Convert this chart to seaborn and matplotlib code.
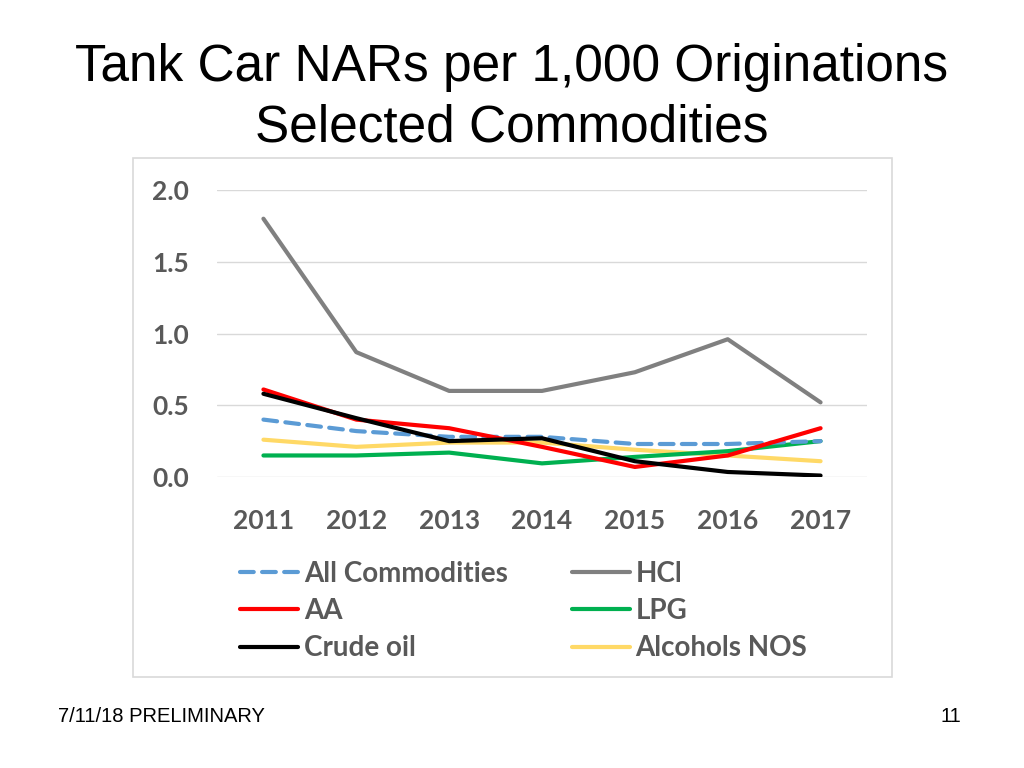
import matplotlib
matplotlib.use("Agg")
import matplotlib.pyplot as plt
import seaborn as sns
import pandas as pd
from matplotlib.patches import Rectangle

years = [2011, 2012, 2013, 2014, 2015, 2016, 2017]
all_commodities = [0.40, 0.32, 0.28, 0.28, 0.23, 0.23, 0.25]
hcl = [1.80, 0.87, 0.60, 0.60, 0.73, 0.96, 0.52]
aa = [0.61, 0.40, 0.34, 0.21, 0.07, 0.15, 0.34]
lpg = [0.15, 0.15, 0.17, 0.095, 0.14, 0.18, 0.25]
crude_oil = [0.58, 0.41, 0.25, 0.27, 0.11, 0.035, 0.01]
alcohols_nos = [0.26, 0.21, 0.24, 0.24, 0.19, 0.15, 0.11]

series = {
    "All Commodities": all_commodities,
    "HCl": hcl,
    "AA": aa,
    "LPG": lpg,
    "Crude oil": crude_oil,
    "Alcohols NOS": alcohols_nos,
}
colors = {
    "All Commodities": "#5B9BD5",
    "HCl": "#808080",
    "AA": "#FF0000",
    "LPG": "#00B050",
    "Crude oil": "#000000",
    "Alcohols NOS": "#FFD966",
}
# draw order: back to front
draw_order = ["HCl", "Alcohols NOS", "LPG", "All Commodities", "AA", "Crude oil"]
legend_order = ["All Commodities", "AA", "Crude oil", "HCl", "LPG", "Alcohols NOS"]

sns.set_style("white")
plt.rcParams["font.family"] = ["Liberation Sans", "DejaVu Sans"]

fig = plt.figure(figsize=(10.24, 7.68), dpi=100)

# chart frame
fig.patches.append(Rectangle((133 / 1024, 1 - 677 / 768), (892 - 133) / 1024, (677 - 158) / 768,
                             transform=fig.transFigure, fill=False, edgecolor="#d9d9d9", linewidth=1.2))

ax = fig.add_axes([217 / 1024, 1 - 477 / 768, (867 - 217) / 1024, (477 - 190) / 768])

for name in draw_order:
    df = pd.DataFrame({"year": years, "value": series[name]})
    kw = dict(linewidth=3.0, solid_capstyle="round")
    if name == "All Commodities":
        kw.update(linestyle=(0, (3.3, 2.0)), dash_capstyle="round")
    sns.lineplot(data=df, x="year", y="value", ax=ax, color=colors[name], label=name, **kw)

ax.set_xlim(2010.5, 2017.5)
ax.set_ylim(0, 2.0)
ax.set_yticks([0, 0.5, 1.0, 1.5, 2.0])
ax.set_yticklabels(["0.0", "0.5", "1.0", "1.5", "2.0"])
ax.set_xticks(years)
ax.grid(axis="y", color="#d9d9d9", linewidth=1)
ax.grid(axis="x", visible=False)
for s in ax.spines.values():
    s.set_visible(False)
ax.set_xlabel("")
ax.set_ylabel("")
for lab in ax.get_xticklabels() + ax.get_yticklabels():
    lab.set_fontfamily(["Lato", "DejaVu Sans"])
    lab.set_fontweight("bold")
    lab.set_fontsize(19)
    lab.set_color("#595959")
ax.tick_params(axis="y", length=0, pad=20)
ax.tick_params(axis="x", length=0, pad=23)

h, l = ax.get_legend_handles_labels()
hm = dict(zip(l, h))
ax.legend([hm[n] for n in legend_order], legend_order, ncol=2, frameon=False,
          loc="upper left", bbox_to_anchor=(240 / 1024, 1 - 561 / 768),
          bbox_transform=fig.transFigure, borderaxespad=0, borderpad=0,
          handlelength=2.1, handletextpad=0.2, columnspacing=2.3, labelspacing=0.4,
          prop=dict(family=["Lato", "DejaVu Sans"], weight="bold", size=20),
          labelcolor="#595959")

fig.text(0.5, 1 - 67 / 768, "Tank Car NARs per 1,000 Originations", ha="center", va="center",
         fontsize=37, color="black")
fig.text(0.5, 1 - 128 / 768, "Selected Commodities", ha="center", va="center",
         fontsize=37, color="black")
fig.text(58 / 1024, 1 - 717 / 768, "7/11/18 PRELIMINARY", ha="left", va="center",
         fontsize=14.5, color="black")
fig.text(961 / 1024, 1 - 717 / 768, "11", ha="right", va="center", fontsize=14.5, color="black")

fig.savefig("out.png", dpi=100)
